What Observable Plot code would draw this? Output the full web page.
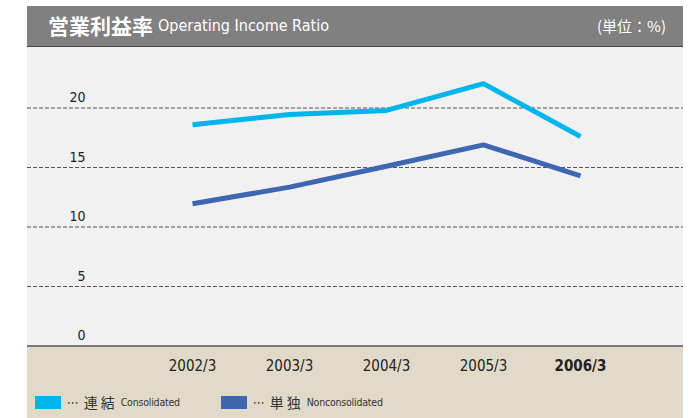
<!DOCTYPE html>
<html>
<head>
<meta charset="utf-8">
<script src="https://cdn.jsdelivr.net/npm/d3@7"></script>
<script src="https://cdn.jsdelivr.net/npm/@observablehq/plot@0.6"></script>
<style>
  html, body { margin: 0; padding: 0; background: #fff; }
  #wrap { position: relative; width: 700px; height: 418px; overflow: hidden; background: #fff;
    font-family: "DejaVu Sans", sans-serif; font-stretch: condensed; }
  #header { position: absolute; left: 27px; top: 6px; width: 656px; height: 40px; background: #808080;
    border-bottom: 1.5px solid #444; color: #fff; }
  #title { position: absolute; left: 21px; top: 6px; font-family: "Noto Sans CJK JP", sans-serif; font-weight: bold; font-size: 21px; line-height: 26px; }
  #subtitle { position: absolute; left: 131px; top: 9px; font-size: 16px; line-height: 22px; }
  #unit { position: absolute; right: 17px; top: 9px; font-family: "Noto Sans CJK JP", sans-serif; font-size: 15px; line-height: 22px; }
  #plotbg { position: absolute; left: 27px; top: 47px; width: 656px; height: 299px; background: #f1f1f1; }
  #bottom { position: absolute; left: 27px; top: 346px; width: 656px; height: 72px; background: #e2dac9; }
  #chart { position: absolute; left: 0; top: 0; }
  #chart svg text { font-stretch: condensed; }
  #legend { position: absolute; left: 0; top: 392px; width: 700px; height: 20px; color: #333; }
  .item { position: absolute; top: 0; display: flex; align-items: center; height: 20px; white-space: nowrap; }
  .sw { width: 26px; height: 13px; margin-right: 6px; }
  .dots { font-size: 13px; margin-right: 5px; }
  .jp { font-family: "Noto Sans CJK JP", sans-serif; font-size: 14px; letter-spacing: 3px; margin-right: 3px; }
  .en { font-size: 10.5px; letter-spacing: -0.2px; }
</style>
</head>
<body>
<div id="wrap">
  <div id="plotbg"></div>
  <div id="bottom"></div>
  <div id="header">
    <div id="title">営業利益率</div>
    <div id="subtitle">Operating Income Ratio</div>
    <div id="unit">(単位：%)</div>
  </div>
  <div id="chart"></div>
  <div id="legend"></div>
</div>
<script>
const years = ["2002/3", "2003/3", "2004/3", "2005/3", "2006/3"];
const consolidated = [18.6, 19.45, 19.8, 22.05, 17.6];
const nonconsolidated = [11.95, 13.35, 15.1, 16.9, 14.3];
const yTicks = [0, 5, 10, 15, 20];
const gridTicks = [5, 10, 15, 20];
const seriesNames = ["連結", "単独"];
const seriesEnglish = ["Consolidated", "Nonconsolidated"];
const colors = ["#00b4ec", "#3f67b1"];

const data = [];
years.forEach((y, i) => {
  data.push({ year: y, value: consolidated[i], series: seriesNames[0] });
  data.push({ year: y, value: nonconsolidated[i], series: seriesNames[1] });
});

const font = '"DejaVu Sans", sans-serif';

const chart = Plot.plot({
  width: 700,
  height: 390,
  marginLeft: 27,
  marginRight: 17,
  marginTop: 48,
  marginBottom: 44.5,
  style: { background: "transparent", fontFamily: font, color: "#222" },
  x: { type: "point", domain: years, padding: 0, insetLeft: 165, insetRight: 103, label: null },
  y: { domain: [0, 25], label: null },
  color: { domain: seriesNames, range: colors },
  marks: [
    Plot.ruleY(gridTicks, { stroke: "#555", strokeWidth: 1, strokeDasharray: "4,2" }),
    Plot.ruleY([0], { stroke: "#555", strokeWidth: 1.5 }),
    Plot.axisY({ ticks: yTicks, tickSize: 0, textAnchor: "end", dx: 67, dy: -10, fontSize: 14, label: null }),
    Plot.axisX({ ticks: years.slice(0, 4), tickSize: 0, fontSize: 15, dy: 5, label: null }),
    Plot.axisX({ ticks: years.slice(4), tickSize: 0, fontSize: 15, dy: 5, fontWeight: "bold", label: null }),
    Plot.line(data, { x: "year", y: "value", z: "series", stroke: "series", strokeWidth: 5, strokeLinejoin: "miter", strokeLinecap: "butt" })
  ]
});
document.getElementById("chart").appendChild(chart);

const legend = document.getElementById("legend");
const lefts = [35, 221];
seriesNames.forEach((s, i) => {
  const it = document.createElement("div");
  it.className = "item";
  it.style.left = lefts[i] + "px";
  it.innerHTML = `<div class="sw" style="background:${colors[i]}"></div><span class="dots">⋯</span><span class="jp">${s}</span><span class="en">${seriesEnglish[i]}</span>`;
  legend.appendChild(it);
});
</script>
</body>
</html>
